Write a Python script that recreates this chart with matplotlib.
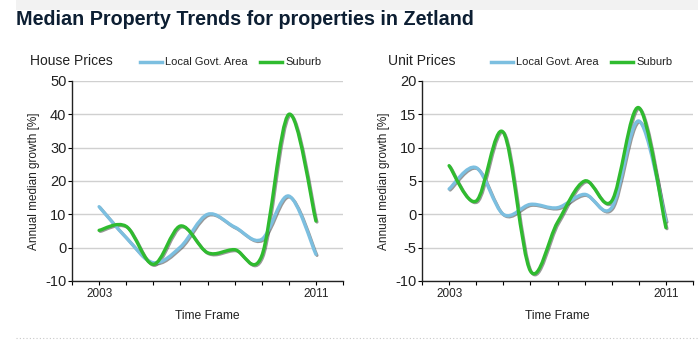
import numpy as np
import matplotlib
matplotlib.use("Agg")
import matplotlib.pyplot as plt
from matplotlib.path import Path
from matplotlib.patches import PathPatch, Rectangle
from matplotlib.lines import Line2D
import matplotlib.transforms as mtransforms

plt.rcParams['font.family'] = ['Liberation Sans', 'DejaVu Sans']

years = [2003, 2004, 2005, 2006, 2007, 2008, 2009, 2010, 2011]
house_lga = [12.3, 3.0, -4.5, 0.2, 10.0, 6.2, 2.5, 15.5, -2.0]
house_suburb = [5.2, 6.4, -5.0, 6.5, -1.5, -0.6, -2.5, 40.0, 8.0]
unit_lga = [3.8, 7.0, 0.0, 1.5, 1.0, 3.0, 1.0, 14.0, -1.0]
unit_suburb = [7.3, 2.0, 12.3, -8.5, -1.2, 5.0, 2.0, 16.0, -2.0]

house_ticks = [-10, 0, 10, 20, 30, 40, 50]
unit_ticks = [-10, -5, 0, 5, 10, 15, 20]

title = "Median Property Trends for properties in Zetland"
series_names = ["Local Govt. Area", "Suburb"]
blue = "#7cbfe0"
green = "#2fbb2f"
tension = 0.5


def spline_path(xs, ys, t):
    xs = np.asarray(xs, float)
    ys = np.asarray(ys, float)
    n = len(xs)
    verts = [(xs[0], ys[0])]
    codes = [Path.MOVETO]
    for i in range(n - 1):
        p0 = (xs[max(i - 1, 0)], ys[max(i - 1, 0)])
        p1 = (xs[i], ys[i])
        p2 = (xs[i + 1], ys[i + 1])
        p3 = (xs[min(i + 2, n - 1)], ys[min(i + 2, n - 1)])
        c1 = (p1[0] + t / 3 * (p2[0] - p0[0]), p1[1] + t / 3 * (p2[1] - p0[1]))
        c2 = (p2[0] - t / 3 * (p3[0] - p1[0]), p2[1] - t / 3 * (p3[1] - p1[1]))
        verts += [c1, c2, p2]
        codes += [Path.CURVE4] * 3
    return Path(verts, codes)


fig = plt.figure(figsize=(6.98, 3.58), dpi=100)
W, H = 698, 358

# top gray band
fig.patches.append(Rectangle((16 / W, 1 - 10 / H), 1 - 16 / W, 10 / H,
                             transform=fig.transFigure, facecolor="#f2f2f2",
                             edgecolor="none", zorder=0))
fig.text(16 / W, 1 - 25 / H, title, fontsize=14.2, fontweight="bold",
         color="#0d1f33", ha="left", va="baseline")
# bottom dotted line
fig.add_artist(Line2D([16 / W, 1], [1 - 338 / H] * 2, transform=fig.transFigure,
                      color="#c8c8c8", lw=0.8, ls=(0, (1, 2))))

panels = [
    (72, "House Prices", house_lga, house_suburb, house_ticks, 30, 140),
    (422, "Unit Prices", unit_lga, unit_suburb, unit_ticks, 388, 491),
]

for left, name, lga, sub, ticks, tx, lx in panels:
    ax = fig.add_axes([left / W, 1 - 281 / H, 271 / W, 200 / H])
    ax.set_xlim(2002, 2012)
    ax.set_ylim(ticks[0], ticks[-1])
    ax.set_yticks(ticks)
    ax.set_yticklabels([str(v) for v in ticks], fontsize=10.5, color="#222222")
    ax.set_xticks([2003, 2011])
    ax.set_xticklabels(["2003", "2011"], fontsize=8.5, color="#222222")
    ax.set_xticks(np.arange(2002, 2013), minor=True)
    ax.tick_params(axis="x", which="both", length=3, width=0.8, pad=2)
    ax.tick_params(axis="y", length=3, width=0.8, pad=1)
    for s in ["top", "right"]:
        ax.spines[s].set_visible(False)
    for s in ["left", "bottom"]:
        ax.spines[s].set_color("#222222")
        ax.spines[s].set_linewidth(1.0)
    ax.grid(axis="y", color="#d0d0d0", lw=1.0)
    ax.set_axisbelow(True)
    shadow_tr = mtransforms.offset_copy(ax.transData, fig=fig, x=0.8, y=-0.8, units="points")
    for vals, col in [(lga, blue), (sub, green)]:
        path = spline_path(years, vals, tension)
        ax.add_patch(PathPatch(path, fill=False, edgecolor="#444444", alpha=0.55,
                               lw=2.2, capstyle="round", joinstyle="round",
                               transform=shadow_tr, zorder=2.5))
        ax.add_patch(PathPatch(path, fill=False, edgecolor=col, lw=2.4,
                               capstyle="round", joinstyle="round", zorder=3))
    ax.set_xlabel("Time Frame", fontsize=8.7, color="#222222", labelpad=7)
    ax.set_ylabel("Annual median growth [%]", fontsize=8.5, color="#222222", labelpad=4)

    fig.text(tx / W, 1 - 61 / H, name, fontsize=10, color="#222222", ha="left", va="center")
    # legend
    for k, (nm, col) in enumerate(zip(series_names, [blue, green])):
        x0 = lx if k == 0 else lx + 120
        fig.add_artist(Line2D([x0 / W, (x0 + 22) / W], [1 - 62 / H] * 2,
                              transform=fig.transFigure, color=col, lw=2.5))
        fig.text((x0 + 25) / W, 1 - 62 / H, nm, fontsize=8, color="#222222",
                 ha="left", va="center")

fig.savefig("out.png", dpi=100, facecolor="white")
